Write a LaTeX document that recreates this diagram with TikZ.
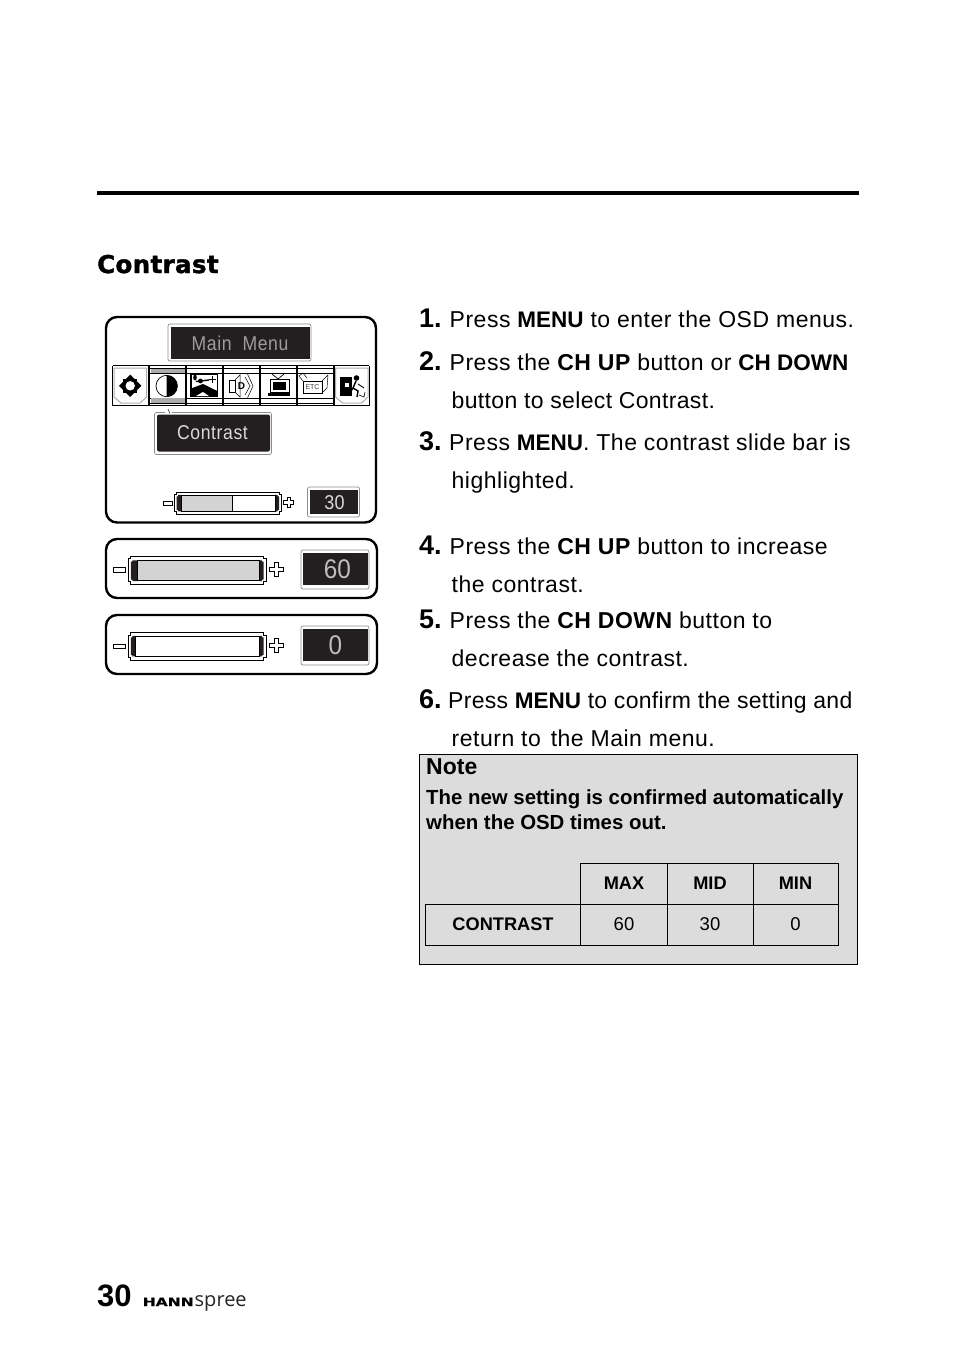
\documentclass[tikz,border=0pt]{standalone}
\usepackage{fontspec}
\setmainfont{Liberation Sans}
\newfontfamily\spacedfont[LetterSpace=2.2]{Liberation Sans}
\newfontfamily\spacedfontb[LetterSpace=1.5]{Liberation Sans}
\newfontfamily\spacedfontc[LetterSpace=1.3]{Liberation Sans}
\newfontfamily\osdfont[LetterSpace=3,FakeStretch=.88]{Liberation Sans}
\newfontfamily\osdnum[FakeStretch=.9]{Liberation Sans}
\newfontfamily\titlefont[LetterSpace=1.5,FakeBold=1.6]{DejaVu Sans}
\newfontfamily\hannfont[FakeStretch=1.35,FakeBold=.6]{DejaVu Sans}
\newfontfamily\spreefont{Open Sans}
\definecolor{barfill}{HTML}{D3D3D3}
\definecolor{notefill}{HTML}{DCDCDC}
\definecolor{osddark}{HTML}{231F20}
\definecolor{osdtext}{HTML}{BDBDBD}
\definecolor{osdring}{HTML}{8C8C8C}
\newcommand{\B}[1]{{\bfseries #1}}
\newcommand{\Bn}[1]{{\normalfont\fontsize{22.5}{22.5}\bfseries\selectfont #1}}
\tikzset{
  pagetext/.style={inner sep=0pt,anchor=base west,text=black},
  steptext/.style={pagetext,font=\fontsize{23}{23}\spacedfont},
  stepnum/.style={pagetext,font=\fontsize{27}{27}\bfseries\selectfont},
  notetext/.style={pagetext,font=\fontsize{20.4}{20.4}\bfseries\selectfont},
  cellhead/.style={inner sep=0pt,anchor=center,font=\fontsize{18.2}{18.2}\bfseries\selectfont},
  cellval/.style={inner sep=0pt,anchor=center,font=\fontsize{18.5}{18.5}\selectfont},
  panel/.style={draw=black,line width=2.4pt,rounded corners=11pt,fill=white},
  osdbox/.style={draw=osdring,line width=.7pt,rounded corners=2pt,fill=white},
  osdlabel/.style={inner sep=0pt,anchor=center,text=osdtext},
  tablerule/.style={draw=black,line width=1pt}
}
% outerL outerR outerT outerB innerL innerR innerT innerB fillEnd
\newcommand{\slidebar}[9]{%
  \draw[line width=.9pt,fill=white] (#1+2.5,#3)--(#2-2.5,#3)--(#2-2.5,#3+2.5)--(#2,#3+2.5)--(#2,#4-2.5)--(#2-2.5,#4-2.5)--(#2-2.5,#4)--(#1+2.5,#4)--(#1+2.5,#4-2.5)--(#1,#4-2.5)--(#1,#3+2.5)--(#1+2.5,#3+2.5)--cycle;
  \fill[osddark] (#1+2.5,#7+1) -- (#1+4,#7+1) -- (#1+4,#7-.4) -- (#5,#7-.4) -- (#5,#8+.4) -- (#1+4,#8+.4) -- (#1+4,#8-1) -- (#1+2.5,#8-1) -- cycle;
  \fill[osddark] (#2-2.5,#7+1) -- (#2-4,#7+1) -- (#2-4,#7-.4) -- (#6,#7-.4) -- (#6,#8+.4) -- (#2-4,#8+.4) -- (#2-4,#8-1) -- (#2-2.5,#8-1) -- cycle;
  \draw[line width=.9pt,fill=white] (#5,#7) rectangle (#6,#8);
  \draw[line width=.9pt,fill=barfill] (#5,#7) rectangle (#9,#8);
}
\newcommand{\minusbox}[4]{\draw[line width=.8pt,fill=white] (#1,#3) rectangle (#2,#4);}
% centreX centreY half-size half-arm
\newcommand{\plusbox}[4]{\draw[line width=.8pt,fill=white]
  (#1-#4,#2-#3)--(#1+#4,#2-#3)--(#1+#4,#2-#4)--(#1+#3,#2-#4)--(#1+#3,#2+#4)--(#1+#4,#2+#4)--(#1+#4,#2+#3)--(#1-#4,#2+#3)--(#1-#4,#2+#4)--(#1-#3,#2+#4)--(#1-#3,#2-#4)--(#1-#4,#2-#4)--cycle;}
\begin{document}
\begin{tikzpicture}[x=1pt,y=-1pt]
\useasboundingbox (0,0) rectangle (954,1352);
\fill[white] (0,0) rectangle (954,1352);
\fill[black] (97,191) rectangle (859,195);
\node[pagetext,font=\fontsize{24.5}{24.5}\titlefont\bfseries] (title) at (97,273) {Contrast};

% main panel
\draw[panel] (106,317) rectangle (376,522.5);
\draw[osdbox] (168,324) rectangle (311,361);
\fill[osddark] (170.5,326.5) rectangle (309.5,358.5);
\node[osdlabel,font=\fontsize{20}{20}\osdfont,text=osdring!85!white] (mainmenu) at (240,343.5) {Main\hspace{11pt}Menu};

% icons row
\fill[white] (112.7,365.5) rectangle (369.3,405.7);
\draw[line width=1pt] (112.7,365.5) -- (369.3,365.5) (112.7,405.7) -- (369.3,405.7);
\foreach \cx in {149.3,186.2,223.2,260.1,297.1,334}{
  \draw[line width=1.7pt] (\cx,365.5) -- (\cx,405.7);
}
\draw[line width=.8pt] (112.7,365.5) -- (112.7,405.7) (369.3,365.5) -- (369.3,405.7);
\draw[line width=1pt] (149.3,368) -- (334,368) (149.3,373) -- (334,373) (149.3,398) -- (334,398) (149.3,403) -- (334,403);
% first and last cells: soft frame
\foreach \cx in {114,335.5}{
  \draw[osdring!70!white,line width=1pt] (\cx,368) -- (\cx+32.5,368) -- (\cx+32.5,397) -- (\cx+26,403) -- (\cx+7,403) -- (\cx,397) -- cycle;
}
% sun
\fill[black] (123,378.6) rectangle (137.4,393);
\fill[black] (130.2,374.6) -- (141.4,385.8) -- (130.2,397) -- (119,385.8) -- cycle;
\fill[white] (130.2,385.8) circle (4.7);
% contrast
\fill[gray!65] (151,368.7) rectangle (184.5,373);
\fill[gray!65] (151,398) rectangle (184.5,403);
\draw[line width=.7pt,fill=white] (166.7,386) circle (10.7);
\fill[black] (166.7,375.3) arc (-90:90:10.7) -- cycle;
% picture
\draw[line width=1.4pt] (191,374) rectangle (217.3,396);
\fill[black] (191,396) -- (191,388.5) -- (203,384) -- (217.3,391) -- (217.3,396) -- cycle;
\fill[white] (196,396) -- (203,392) -- (209,396) -- cycle;
\fill[white] (191.8,375) rectangle (199,384);
\fill[black] (195,377.5) ellipse (1.8 and 3);
\draw[line width=1.4pt] (196,381.5) -- (209,380);
\fill[black] (200.5,381) circle (2.4);
\draw[line width=.9pt] (212.5,376) -- (212.5,383) (209,379.5) -- (216,379.5);
% speaker
\draw[line width=.5pt] (229.5,380) -- (235,380) -- (235,392) -- (229.5,392) -- cycle;
\draw[line width=.5pt] (235,380) -- (240,375) -- (240,397) -- (235,392);
\node[inner sep=0pt,font=\fontsize{10}{10}\bfseries\selectfont] (speakerd) at (241.5,386) {D};
\draw[line width=.5pt] (245,377) -- (250,386) -- (245,395);
\draw[line width=.5pt] (247.5,374) -- (253,386) -- (247.5,398);
% tv
\draw[line width=.7pt] (272,374) -- (278,379) -- (284,374);
\draw[line width=.9pt] (270,379) rectangle (289,392);
\fill[black] (273,382) rectangle (286,390);
\fill[black] (268,392.5) rectangle (290,395.5);
% etc box
\draw[line width=.5pt] (303,381) -- (322,381) -- (322,393) -- (303,393) -- cycle;
\draw[line width=.5pt] (322,381) -- (328,375) (322,393) -- (327,388) -- (328,375);
\draw[line width=.5pt] (303,381) -- (299,376) -- (303,373) -- (307,378);
\node[inner sep=0pt,font=\fontsize{7}{7}\selectfont,text=black!75] (etc) at (312.5,387.5) {ETC};
% exit
\fill[black] (340,376.5) rectangle (352,396);
\fill[white] (345,383) rectangle (349,387);
\fill[black] (356.5,378) circle (2.8);
\draw[line width=1.4pt] (356,381) -- (353,388) -- (358,391) -- (357,397);
\draw[line width=1.1pt] (353,388) -- (349,396);
\draw[line width=.9pt] (358,384) -- (364,388);
\draw[line width=.6pt] (359,395) -- (364,397) -- (365,392);

% contrast title box
\draw[osdbox] (154.5,412.5) rectangle (271.5,454.5);
\fill[white] (165,410) rectangle (172,414);
\draw[line width=.5pt] (168,409) -- (170,413.5);
\fill[osddark,rounded corners=2pt] (157,414.5) rectangle (270,451.5);
\node[osdlabel,font=\fontsize{20}{20}\osdfont,text=white!85!black] (contrastlabel) at (212.5,432.5) {Contrast};

% slide bar 30
\slidebar{174}{281.7}{492}{514.3}{181.7}{275}{495.3}{511}{232.5}
\minusbox{163.3}{172.7}{501}{505}
\plusbox{288.8}{502.3}{5}{1.6}
\draw[osdbox] (307.5,487) rectangle (359.5,517);
\fill[osddark] (309.5,490) rectangle (358,514);
\node[osdlabel,font=\fontsize{20}{20}\osdnum,text=white!85!black] (val30) at (334.5,503) {30};

% panel 60
\draw[panel] (106,539) rectangle (377,598);
\slidebar{128.3}{266}{556}{584.3}{137.7}{259.3}{560.7}{580.7}{259.3}
\minusbox{113.3}{125.7}{567.7}{572.7}
\plusbox{276.3}{569.5}{7}{1.8}
\draw[osdbox] (301,550) rectangle (369,589);
\fill[osddark] (303,553) rectangle (367.5,585);
\node[osdlabel,font=\fontsize{27}{27}\osdnum] (val60) at (337.5,569.5) {60};

% panel 0
\draw[panel] (106,615) rectangle (377,674);
\slidebar{128.3}{266}{632.7}{660.3}{135.7}{259.3}{636.3}{656}{135.7}
\minusbox{113.3}{125.7}{644}{648.7}
\plusbox{276.3}{645.6}{7}{1.8}
\draw[osdbox] (301,626) rectangle (369,665);
\fill[osddark] (303,629) rectangle (367.5,661);
\node[osdlabel,font=\fontsize{27}{27}\osdnum] (val0) at (335.5,645.5) {0};

% steps
\node[stepnum] (n1) at (419,327.5) {1.};
\node[steptext] (s1) at (449.5,327.5) {Press \Bn{MENU} to enter the OSD menus.};
\node[stepnum] (n2) at (419,370) {2.};
\node[steptext] (s2) at (449.5,370) {Press the \B{CH UP} button or \Bn{CH DOWN}};
\node[steptext,font=\fontsize{23}{23}\spacedfontb] (s2b) at (451.5,408) {button to select Contrast.};
\node[stepnum] (n3) at (419,450) {3.};
\node[steptext] (s3) at (449,450) {Press \Bn{MENU}. The contrast slide bar is};
\node[steptext] (s3b) at (451.5,488.5) {highlighted.};
\node[stepnum] (n4) at (419,554) {4.};
\node[steptext] (s4) at (449.5,554) {Press the \B{CH UP} button to increase};
\node[steptext] (s4b) at (451.5,592.5) {the contrast.};
\node[stepnum] (n5) at (419,628.5) {5.};
\node[steptext] (s5) at (449.5,628.5) {Press the \B{CH DOWN} button to};
\node[steptext] (s5b) at (451.5,666.5) {decrease the contrast.};
\node[stepnum] (n6) at (419,708.5) {6.};
\node[steptext,font=\fontsize{23}{23}\spacedfontc] (s6) at (448,708.5) {Press \Bn{MENU} to confirm the setting and};
\node[steptext] (s6b) at (451.5,746.5) {return to\hspace{3pt} the Main menu.};

% note
\draw[line width=1pt,fill=notefill] (419.5,754.5) rectangle (857.5,964.5);
\node[pagetext,font=\fontsize{23}{23}\bfseries\selectfont] (notehead) at (426,774) {Note};
\node[notetext] (note1) at (426,804) {The new setting is confirmed automatically};
\node[notetext] (note2) at (426,829) {when the OSD times out.};

% table
\draw[tablerule] (580.5,863.5) rectangle (838.5,945.5);
\draw[tablerule] (425.5,904.5) rectangle (838.5,945.5);
\draw[tablerule] (580.5,863.5) -- (580.5,945.5);
\draw[tablerule] (667.5,863.5) -- (667.5,945.5);
\draw[tablerule] (753,863.5) -- (753,945.5);
\node[cellhead] (hmax) at (624,883.5) {MAX};
\node[cellhead] (hmid) at (710,883.5) {MID};
\node[cellhead] (hmin) at (795.5,883.5) {MIN};
\node[cellhead] (rowc) at (503,924.5) {CONTRAST};
\node[cellval] (v60) at (624,924.5) {60};
\node[cellval] (v30) at (710,924.5) {30};
\node[cellval] (v0) at (795.5,924.5) {0};

% footer
\node[pagetext,font=\fontsize{31}{31}\bfseries\selectfont] (pageno) at (97,1306) {30};
\node[pagetext,font=\fontsize{11.5}{11.5}\hannfont\bfseries] (hann) at (142.5,1306) {HANN};
\node[pagetext,font=\fontsize{20}{20}\spreefont,text=black!85] (spree) at (194.5,1306) {spree};
\end{tikzpicture}
\end{document}
